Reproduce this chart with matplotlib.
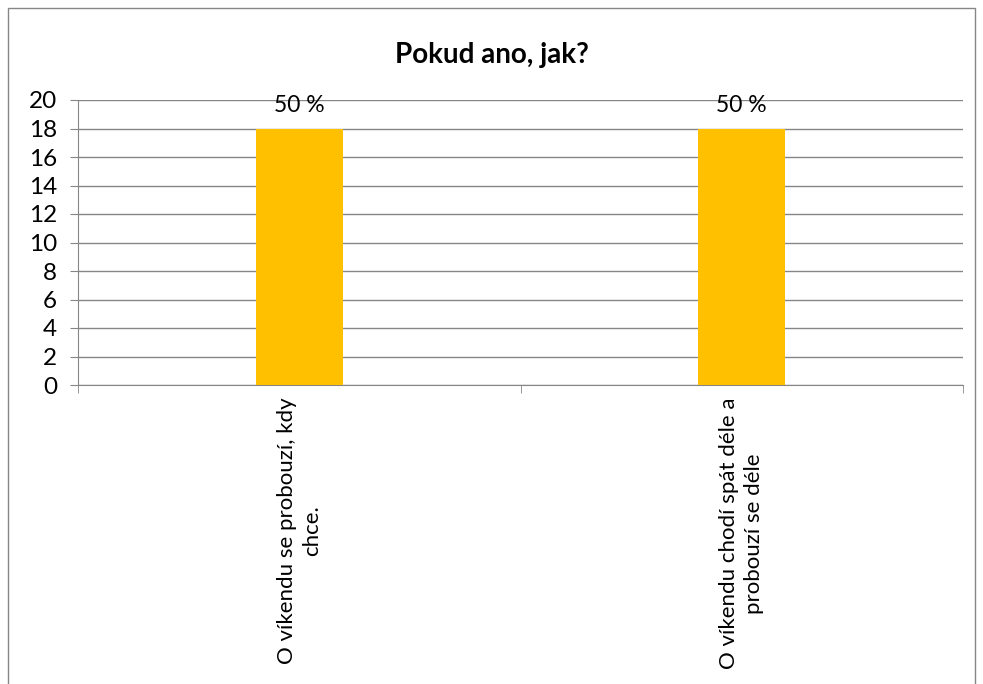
import matplotlib
matplotlib.use('Agg')
import matplotlib.pyplot as plt
from matplotlib.patches import Rectangle

categories = ["O víkendu se probouzí, kdy\nchce.",
              "O víkendu chodí spát déle a\nprobouzí se déle"]
values = [18, 18]
labels = ["50 %", "50 %"]
yticks = list(range(0, 21, 2))

plt.rcParams['font.family'] = ['Lato', 'DejaVu Sans']

fig = plt.figure(figsize=(9.83, 6.84), dpi=100)
# outer chart border
fig.patches.append(Rectangle((8 / 983, -0.05), 967 / 983, 1 - 8 / 684 + 0.05,
                             transform=fig.transFigure, fill=False,
                             edgecolor='#868686', lw=1))

ax = fig.add_axes([78 / 983, 1 - 385 / 684, 885 / 983, 285 / 684])
x = list(range(len(categories)))
ax.bar(x, values, width=0.197, color='#FFC000', zorder=3)
for xi, v, lab in zip(x, values, labels):
    ax.annotate(lab, (xi, v), xytext=(0, 9), textcoords='offset points',
                ha='center', va='bottom', fontsize=16.5)

ax.set_xlim(-0.5, len(categories) - 0.5)
ax.set_ylim(0, 20)
ax.set_yticks(yticks)
ax.tick_params(axis='y', labelsize=17.5, length=6, color='#868686', pad=9)
ax.yaxis.grid(True, color='#868686', lw=1, zorder=0)

# category labels and boundary ticks
ax.set_xticks(x)
ax.set_xticklabels(categories, rotation=90, fontsize=16, ha='center',
                   va='top', multialignment='center', linespacing=1.3)
ax.tick_params(axis='x', length=0, pad=9)
ax.set_xticks([-0.5, 0.5, 1.5], minor=True)
ax.tick_params(axis='x', which='minor', length=6, color='#868686')

for s in ['top', 'right']:
    ax.spines[s].set_visible(False)
for s in ['left', 'bottom']:
    ax.spines[s].set_color('#868686')

fig.text(0.5, 1 - 55 / 684, "Pokud ano, jak?", ha='center', va='center',
         fontsize=20, fontweight='bold')

fig.savefig("out.png", dpi=100)
